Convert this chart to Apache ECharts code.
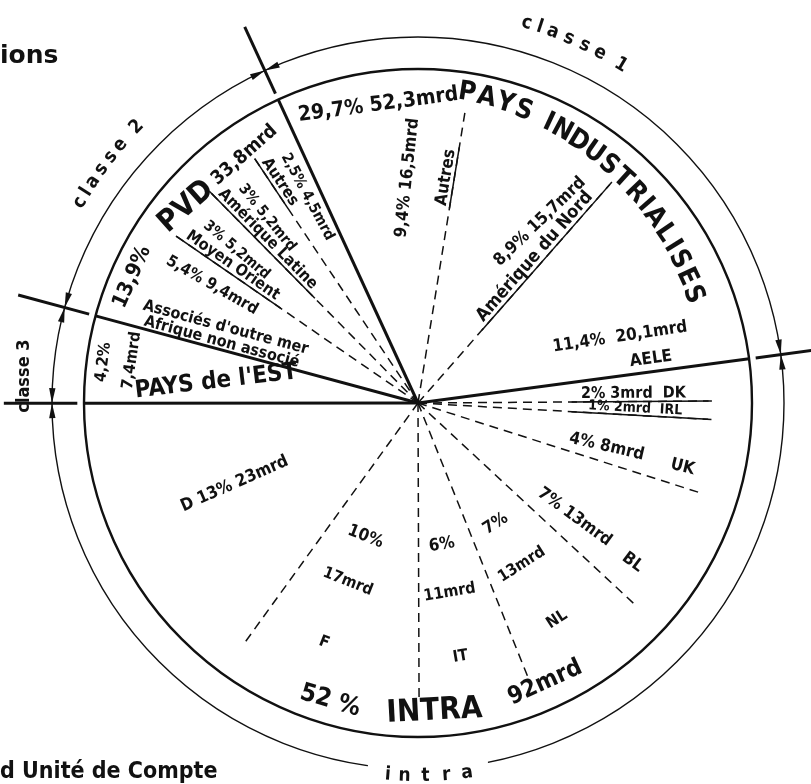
<!DOCTYPE html>
<html>
<head>
    <meta charset="utf-8">
    <title>Exportations par classes de pays</title>
    <script src="https://cdn.jsdelivr.net/npm/echarts@6/dist/echarts.min.js"></script>
    <style>
        html, body { margin: 0; padding: 0; background: #ffffff; }
        #chart { width: 811px; height: 784px; }
    </style>
</head>
<body>
<div id="chart"></div>
<script>
    // --- data (percent of total, milliards d'unités de compte) ---
    const classKeys = ['INTRA', 'EST', 'PVD', 'IND'];
    const classNames = ['INTRA', "PAYS de l'EST", 'PVD', 'PAYS INDUSTRIALISES'];
    const classPct = [52, 4.2, 13.9, 29.7];
    const classMrd = [92, 7.4, 33.8, 52.3];

    const intraNames = ['DK', 'IRL', 'UK', 'BL', 'NL', 'IT', 'F', 'D'];
    const intraPct = [2, 1, 4, 7, 7, 6, 10, 13];
    const intraMrd = [3, 2, 8, 13, 13, 11, 17, 23];

    const pvdNames = ["Associés d'outre mer\nAfrique non associé", 'Moyen Orient', 'Amérique Latine', 'Autres'];
    const pvdPct = [5.4, 3, 3, 2.5];
    const pvdMrd = [9.4, 5.2, 5.2, 4.5];

    const indNames = ['Autres', 'Amérique du Nord', 'AELE'];
    const indPct = [9.4, 8.9, 11.4];
    const indMrd = [16.5, 15.7, 20.1];

    const classeLabels = ['intra', 'classe 3', 'classe 2', 'classe 1'];

    // --- look ---
    const INK = '#111';
    const FONT = "'DejaVu Sans Condensed', 'DejaVu Sans', sans-serif";
    const START = 7.6;            // echarts startAngle of the first slice
    const R_OUT = 366 / 334;      // outer ring, in units of the pie radius

    const total = classPct.reduce((a, b) => a + b, 0);

    // angular spans of every class and sub-slice, in axis units
    const spans = {};
    let acc = 0;
    classKeys.forEach((k, i) => { spans[k] = [acc, acc + classPct[i]]; acc += classPct[i]; });
    const pvdKeys = pvdNames.map((_, i) => 'PVD' + i);
    const indKeys = indNames.map((_, i) => 'IND' + i);
    function addSubs(cls, keys, pct) {
        let a = spans[cls][0];
        keys.forEach((k, i) => {
            const b = i === keys.length - 1 ? spans[cls][1] : a + pct[i];
            spans[k] = [a, b];
            a = b;
        });
    }
    addSubs('INTRA', intraNames, intraPct);
    addSubs('PVD', pvdKeys, pvdPct);
    addSubs('IND', indKeys, indPct);

    const at = (key, f) => spans[key][0] + f * (spans[key][1] - spans[key][0]);
    const fmt = v => String(v).replace('.', ',');
    const compass = v => 90 - START + v * 360 / total;
    const norm = a => ((a % 360) + 540) % 360 - 180;
    function rotOf(mode, v) {
        if (typeof mode === 'number') return mode;
        const t = compass(v);
        if (mode === 'out') return norm(90 - t);
        if (mode === 'in') return norm(270 - t);
        if (mode === 'top') return norm(-t);
        return norm(180 - t); // 'bot'
    }

    const els = [];
    // white gap in the outer ring behind "intra"
    els.push({ kind: 'mask', v: at('INTRA', 0.512), r: R_OUT - 0.005, w: 120, h: 16 });

    // dashed dividers between sub-slices
    [intraNames, pvdKeys, indKeys].forEach(keys => {
        keys.slice(0, -1).forEach(k => els.push({ kind: 'line', v: spans[k][1], r0: 0, r1: 0.88, w: 1.5, dash: [9, 6] }));
    });
    // underlined labels that sit on a divider
    [['DK', 1, 0.46, 0.87], ['IRL', 1, 0.46, 0.87], ['PVD1', 0, 0.50, 0.88], ['PVD2', 0, 0.44, 0.89],
     ['PVD3', 0, 0.70, 0.88], ['IND0', 1, 0.59, 0.775], ['IND1', 1, 0.29, 0.87]].forEach(u => {
        els.push({ kind: 'line', v: at(u[0], u[1]), r0: u[2], r1: u[3], w: 1.5 });
    });
    // class boundaries, ticks on the ring and arrow heads
    classKeys.forEach(k => {
        const v = spans[k][0];
        els.push({ kind: 'line', v, r0: 0, r1: 1, w: 3 });
        els.push({ kind: 'line', v, r0: 1.02, r1: 1.24, w: 3 });
        els.push({ kind: 'arrow', v, dir: 1 });
        els.push({ kind: 'arrow', v, dir: -1 });
    });

    function label(text, key, f, r, rot, size, opts) {
        els.push(Object.assign({ kind: 'text', text, v: at(key, f), r, rot, size }, opts || {}));
    }
    function curved(text, key, f0, f1, r0, r1, size, mode) {
        const chars = [...text];
        const wts = chars.map(c => ' Il1i'.includes(c) ? 0.6 : 1);
        const pos = [];
        let s = 0;
        chars.forEach((c, i) => { if (i) s += (wts[i - 1] + wts[i]) / 2; pos.push(s); });
        chars.forEach((c, i) => {
            if (c === ' ') return;
            const t = pos[i] / s;
            label(c, key, f0 + (f1 - f0) * t, r0 + (r1 - r0) * t, mode, size);
        });
    }
    const pm = (p, m) => fmt(p) + '% ' + fmt(m) + 'mrd';

    // pays industrialisés
    label(fmt(classPct[3]) + '% ' + fmt(classMrd[3]) + 'mrd', 'IND', 0.16, 0.90, 'top', 21);
    curved(classNames[3], 'IND', 0.315, 0.87, 0.94, 0.885, 27, 'top');
    label(pm(indPct[0], indMrd[0]), 'IND0', 0.65, 0.675, 84, 17);
    label(indNames[0], 'IND0', 1, 0.68, 'out', 17, { va: 'bottom' });
    label(pm(indPct[1], indMrd[1]), 'IND1', 0.77, 0.654, 44, 17);
    label(indNames[1], 'IND1', 1, 0.56, 'out', 18, { va: 'bottom' });
    label(fmt(indPct[2]) + '%  ' + fmt(indMrd[2]) + 'mrd', 'IND2', 0.745, 0.636, 8.5, 17);
    label(indNames[2], 'IND2', 0.925, 0.71, 8, 17);

    // intra
    label(pm(intraPct[0], intraMrd[0]) + '  ' + intraNames[0], 'DK', 1, 0.645, 'out', 16, { va: 'bottom' });
    label(pm(intraPct[1], intraMrd[1]) + '  ' + intraNames[1], 'IRL', 1, 0.65, 'out', 14, { va: 'bottom' });
    label(pm(intraPct[2], intraMrd[2]), 'UK', 0.68, 0.58, 'out', 17);
    label(intraNames[2], 'UK', 0.72, 0.815, 'out', 17);
    label(pm(intraPct[3], intraMrd[3]), 'BL', 0.73, 0.58, 'out', 17);
    label(intraNames[3], 'BL', 0.75, 0.80, 'out', 17);
    [4, 5, 6].forEach(i => {
        const k = intraNames[i];
        const f = i === 6 ? 0.6 : 0.57;
        label(intraPct[i] + '%', k, f, 0.43, 'bot', 17);
        label(intraMrd[i] + 'mrd', k, f, 0.575, 'bot', 16);
        label(k, k, f, 0.77, 'bot', 16);
    });
    label('D ' + intraPct[7] + '% ' + intraMrd[7] + 'mrd', 'D', 0.56, 0.60, 'in', 17);
    label(classPct[0] + ' %', 'INTRA', 0.608, 0.93, 'bot', 25);
    label(classNames[0], 'INTRA', 0.504, 0.925, 'bot', 31);
    label(classMrd[0] + 'mrd', 'INTRA', 0.39, 0.92, 'bot', 24);

    // pays de l'est
    label(classNames[1], 'EST', 0.4, 0.608, 6.8, 24);
    label(fmt(classPct[1]) + '%', 'EST', 0.49, 0.95, 'top', 16);
    label(fmt(classMrd[1]) + 'mrd', 'EST', 0.56, 0.866, 'top', 16);

    // pvd
    label(fmt(classPct[2]) + '%', 'PVD', 0.173, 0.935, 'top', 21);
    label('{a|' + classNames[2] + '} ' + fmt(classMrd[2]) + 'mrd', 'PVD', 0.665, 0.90, 'top', 19,
        { rich: { a: { fontSize: 30, fontFamily: FONT, fontWeight: 'bold', fill: INK } } });
    label(pm(pvdPct[3], pvdMrd[3]), 'PVD3', 0.615, 0.70, 'in', 15);
    label(pvdNames[3], 'PVD3', 0, 0.78, 'in', 16, { va: 'bottom' });
    label(pm(pvdPct[2], pvdMrd[2]), 'PVD2', 0.5, 0.715, 'in', 15);
    label(pvdNames[2], 'PVD2', 0, 0.665, 'in', 16, { va: 'bottom' });
    label(pm(pvdPct[1], pvdMrd[1]), 'PVD1', 0.51, 0.71, 'in', 15);
    label(pvdNames[1], 'PVD1', 0, 0.69, 'in', 16, { va: 'bottom' });
    label(pm(pvdPct[0], pvdMrd[0]), 'PVD0', 0.75, 0.71, 'in', 16);
    label(pvdNames[0], 'PVD0', 0, 0.615, 'in', 16, { va: 'bottom', lh: 15 });

    // outer ring
    curved(classeLabels[3], 'IND', 0.38, 0.52, 1.183, 1.18, 19, 'top');
    curved(classeLabels[2], 'PVD', 0.31, 0.585, 1.176, 1.18, 19, 'top');
    label(classeLabels[1], 'EST', 0.26, 1.18, 90, 18);
    curved(classeLabels[0], 'INTRA', 0.545, 0.48, 1.117, 1.117, 19, 'bot');

    function renderItem(params, api) {
        const e = els[params.dataIndex];
        if (e.kind === 'line') {
            const p0 = api.coord([e.r0, e.v]);
            const p1 = api.coord([e.r1, e.v]);
            return {
                type: 'line',
                shape: { x1: p0[0], y1: p0[1], x2: p1[0], y2: p1[1] },
                style: { stroke: INK, lineWidth: e.w, lineDash: e.dash || null, fill: null }
            };
        }
        if (e.kind === 'arrow') {
            const dv = 15 / (2 * Math.PI * 366) * total;
            const t = api.coord([R_OUT, e.v]);
            const b = api.coord([R_OUT, e.v + e.dir * dv]);
            let ux = t[0] - b[0], uy = t[1] - b[1];
            const L = Math.hypot(ux, uy);
            ux /= L; uy /= L;
            const w = 3.2;
            return {
                type: 'polygon',
                shape: { points: [t, [b[0] - uy * w, b[1] + ux * w], [b[0] + uy * w, b[1] - ux * w]] },
                style: { fill: INK }
            };
        }
        const p = api.coord([e.r, e.v]);
        if (e.kind === 'mask') {
            return {
                type: 'rect', x: p[0], y: p[1],
                shape: { x: -e.w / 2, y: -e.h / 2, width: e.w, height: e.h },
                style: { fill: '#ffffff' }
            };
        }
        return {
            type: 'text', x: p[0], y: p[1],
            rotation: rotOf(e.rot, e.v) * Math.PI / 180,
            style: {
                text: e.text, fontSize: e.size, fontFamily: FONT, fontWeight: 'bold', fill: INK,
                lineHeight: e.lh, align: 'center', verticalAlign: e.va || 'middle', rich: e.rich
            }
        };
    }

    const hidden = { axisLine: { show: false }, axisTick: { show: false }, axisLabel: { show: false }, splitLine: { show: false } };

    const chart = echarts.init(document.getElementById('chart'));
    chart.setOption({
        animation: false,
        backgroundColor: '#ffffff',
        title: [
            { text: 'ions', left: 0, top: 44, padding: 0,
              textStyle: { fontFamily: 'DejaVu Sans', fontSize: 25, fontWeight: 'bold', color: INK } },
            { text: 'd Unité de Compte', left: 0, top: 761, padding: 0,
              textStyle: { fontFamily: FONT, fontSize: 23, fontWeight: 'bold', color: INK } }
        ],
        polar: [
            { center: [418, 403], radius: 334 },
            { center: [418, 403], radius: 366 }
        ],
        angleAxis: [
            Object.assign({}, hidden, { polarIndex: 0, type: 'value', min: 0, max: total, startAngle: START, clockwise: true,
                axisLine: { show: true, lineStyle: { color: INK, width: 2.4 } } }),
            Object.assign({}, hidden, { polarIndex: 1, type: 'value', min: 0, max: 1,
                axisLine: { show: true, lineStyle: { color: INK, width: 1.4 } } })
        ],
        radiusAxis: [
            Object.assign({}, hidden, { polarIndex: 0, type: 'value', min: 0, max: 1 }),
            Object.assign({}, hidden, { polarIndex: 1, type: 'value', min: 0, max: 1 })
        ],
        series: [{
            type: 'custom',
            coordinateSystem: 'polar',
            polarIndex: 0,
            renderItem: renderItem,
            data: els.map(e => [e.r !== undefined ? e.r : e.r0, e.v])
        }]
    });
</script>
</body>
</html>
